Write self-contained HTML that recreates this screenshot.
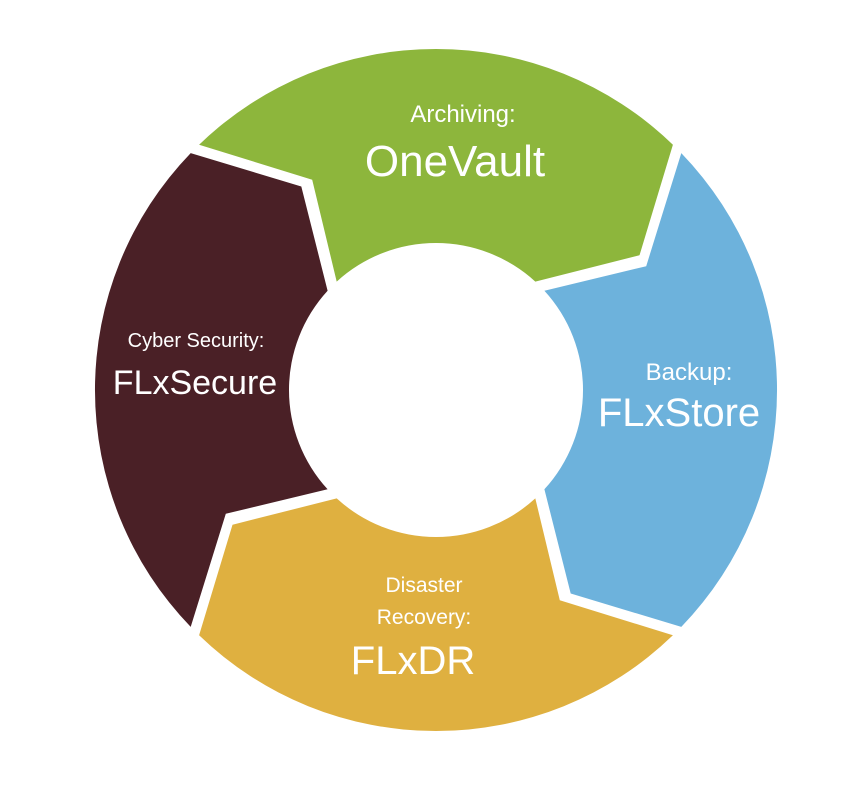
<!DOCTYPE html>
<html><head><meta charset="utf-8"><style>
html,body{margin:0;padding:0;background:#fff;}
svg{display:block;}
text{font-family:"Liberation Sans",sans-serif;fill:#fff;text-anchor:middle;}
</style></head><body>
<svg id="s" width="854" height="788" viewBox="0 0 854 788" xmlns="http://www.w3.org/2000/svg">
<g id="g"></g>
<text x="463" y="122" font-size="24">Archiving:</text>
<text x="455" y="176" font-size="44">OneVault</text>
<text x="689" y="380" font-size="24">Backup:</text>
<text x="679" y="426" font-size="40">FLxStore</text>
<text x="196" y="347" font-size="20">Cyber Security:</text>
<text x="195" y="394" font-size="34">FLxSecure</text>
<text x="424" y="592" font-size="21">Disaster</text>
<text x="424" y="624" font-size="21">Recovery:</text>
<text x="413" y="674" font-size="40">FLxDR</text>
</svg>
<script>
(function(){
var cx=436,cy=390,R=341,r=147,M=(R+r)/2;
function pt(phi,rad){var a=phi*Math.PI/180;return [(cx+rad*Math.sin(a)).toFixed(1),(cy-rad*Math.cos(a)).toFixed(1)];}
var segs=[[-45,'#8db63c'],[45,'#6db2dc'],[135,'#dfb040'],[225,'#4a2026']];
var tip=13,h='';
segs.forEach(function(s){
 var b=s[0],e=b+90;
 var so=pt(b+1,R),si=pt(b+2.5,r),sn=pt(b+1.5+tip,M);
 var eo=pt(e-1,R),ei=pt(e-2.5,r),en=pt(e-1.5+tip,M);
 var d='M'+so+' A'+R+','+R+' 0 0 1 '+eo+' L'+en+' L'+ei+' A'+r+','+r+' 0 0 0 '+si+' L'+sn+' Z';
 h+='<path d="'+d+'" fill="'+s[1]+'"/>';
});
document.getElementById('g').innerHTML=h;
})();
</script>
</body></html>
